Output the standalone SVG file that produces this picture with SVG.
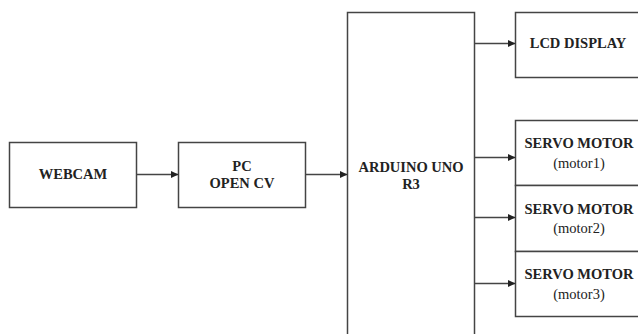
<svg xmlns="http://www.w3.org/2000/svg" width="638" height="334" viewBox="0 0 638 334">
<defs>
<marker id="arr" markerWidth="8" markerHeight="8" refX="7" refY="4" orient="auto" markerUnits="userSpaceOnUse">
<path d="M0,0.5 L7.5,4 L0,7.5 Z" fill="#222"/>
</marker>
<style>
.box{fill:#fff;stroke:#444;stroke-width:1.5}
.t{font-size:14.5px;font-weight:bold;fill:#222;text-anchor:middle}
.n{font-weight:normal}
.c{stroke:#444;stroke-width:1.5;fill:none;marker-end:url(#arr)}
</style>
</defs>
<rect width="638" height="334" fill="#fff"/>
<g font-family="Liberation Serif, DejaVu Serif, serif">
<g id="webcam"><rect class="box" x="9.5" y="142.5" width="127" height="65"/><text class="t" x="73" y="179">WEBCAM</text></g>
<g id="pc"><rect class="box" x="178.5" y="142.5" width="127" height="65"/><text class="t" x="242" y="171">PC</text><text class="t" x="242" y="188">OPEN CV</text></g>
<g id="arduino"><rect class="box" x="347.5" y="12.5" width="127" height="340"/><text class="t" x="411" y="172">ARDUINO UNO</text><text class="t" x="411" y="189">R3</text></g>
<g id="lcd"><rect class="box" x="515.5" y="12.5" width="130" height="65"/><text class="t" x="578" y="48">LCD DISPLAY</text></g>
<g id="servo1"><rect class="box" x="515.5" y="120.5" width="130" height="65"/><text class="t" x="579" y="148">SERVO MOTOR</text><text class="t n" x="579" y="168">(motor1)</text></g>
<g id="servo2"><rect class="box" x="515.5" y="185.5" width="130" height="66"/><text class="t" x="579" y="214">SERVO MOTOR</text><text class="t n" x="579" y="233">(motor2)</text></g>
<g id="servo3"><rect class="box" x="515.5" y="251.5" width="130" height="65"/><text class="t" x="579" y="279">SERVO MOTOR</text><text class="t n" x="579" y="299">(motor3)</text></g>
</g>
<g id="connectors">
<line class="c" x1="137" y1="174.5" x2="178" y2="174.5"/>
<line class="c" x1="306" y1="174.5" x2="347" y2="174.5"/>
<line class="c" x1="475" y1="43.5" x2="515" y2="43.5"/>
<line class="c" x1="475" y1="157.5" x2="515" y2="157.5"/>
<line class="c" x1="475" y1="217.5" x2="515" y2="217.5"/>
<line class="c" x1="475" y1="283.5" x2="515" y2="283.5"/>
</g>
</svg>
